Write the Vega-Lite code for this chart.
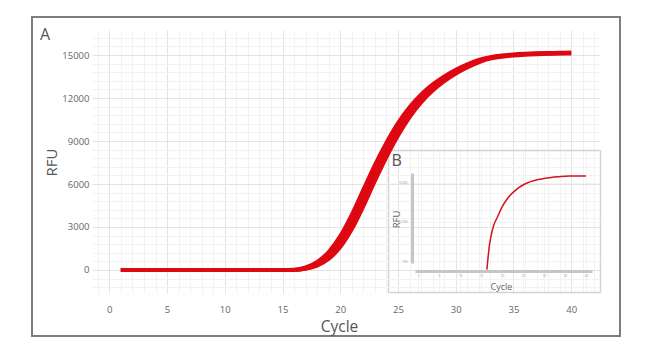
{
  "$schema": "https://vega.github.io/schema/vega-lite/v6.json",
  "width": 588,
  "height": 319,
  "autosize": "none",
  "padding": {"left": 32, "top": 17, "right": 30, "bottom": 16},
  "background": "white",
  "title": {"text": "A", "anchor": "start", "frame": "group", "offset": -39, "baseline": "alphabetic", "dx": 8, "font": "Open Sans", "fontSize": 16, "fontWeight": "normal", "color": "#555"},
  "config": {"view": {"stroke": "#7d7d7d", "strokeWidth": 2, "fill": "white"}, "font": "Open Sans"},
  "datasets": {
    "wells": [
      {"cycle": 1, "w1": 0, "w2": 0, "w3": 0, "w4": 0, "w5": 0},
      {"cycle": 2, "w1": 0, "w2": 0, "w3": 0, "w4": 0, "w5": 0},
      {"cycle": 3, "w1": 0, "w2": 0, "w3": 0, "w4": 0, "w5": 0},
      {"cycle": 4, "w1": 0, "w2": 0, "w3": 0, "w4": 0, "w5": 0},
      {"cycle": 5, "w1": 0, "w2": 0, "w3": 0, "w4": 0, "w5": 0},
      {"cycle": 6, "w1": 0, "w2": 0, "w3": 0, "w4": 0, "w5": 0},
      {"cycle": 7, "w1": 0, "w2": 0, "w3": 0, "w4": 0, "w5": 0},
      {"cycle": 8, "w1": 0, "w2": 0, "w3": 0, "w4": 0, "w5": 0},
      {"cycle": 9, "w1": 0, "w2": 0, "w3": 0, "w4": 0, "w5": 0},
      {"cycle": 10, "w1": 0, "w2": 0, "w3": 0, "w4": 0, "w5": 0},
      {"cycle": 11, "w1": 0, "w2": 0, "w3": 0, "w4": 0, "w5": 0},
      {"cycle": 12, "w1": 0, "w2": 0, "w3": 0, "w4": 0, "w5": 0},
      {"cycle": 13, "w1": 0, "w2": 0, "w3": 0, "w4": 0, "w5": 0},
      {"cycle": 14, "w1": 0, "w2": 0, "w3": 0, "w4": 0, "w5": 0},
      {"cycle": 15, "w1": 0, "w2": 0, "w3": 0, "w4": 0, "w5": 0},
      {"cycle": 16, "w1": 35, "w2": 15, "w3": 0, "w4": 0, "w5": 0},
      {"cycle": 17, "w1": 198, "w2": 142, "w3": 100, "w4": 85, "w5": 65},
      {"cycle": 18, "w1": 580, "w2": 466, "w3": 380, "w4": 338, "w5": 282},
      {"cycle": 19, "w1": 1283, "w2": 1093, "w3": 950, "w4": 865, "w5": 751},
      {"cycle": 20, "w1": 2390, "w2": 2110, "w3": 1900, "w4": 1758, "w5": 1568},
      {"cycle": 21, "w1": 3895, "w2": 3555, "w3": 3300, "w4": 3090, "w5": 2810},
      {"cycle": 22, "w1": 5630, "w2": 5270, "w3": 5000, "w4": 4745, "w5": 4405},
      {"cycle": 23, "w1": 7360, "w2": 7040, "w3": 6800, "w4": 6530, "w5": 6170},
      {"cycle": 24, "w1": 8908, "w2": 8618, "w3": 8400, "w4": 8160, "w5": 7840},
      {"cycle": 25, "w1": 10270, "w2": 10030, "w3": 9850, "w4": 9633, "w5": 9343},
      {"cycle": 26, "w1": 11383, "w2": 11193, "w3": 11050, "w4": 10870, "w5": 10630},
      {"cycle": 27, "w1": 12263, "w2": 12113, "w3": 12000, "w4": 11858, "w5": 11668},
      {"cycle": 28, "w1": 12960, "w2": 12840, "w3": 12750, "w4": 12638, "w5": 12488},
      {"cycle": 29, "w1": 13525, "w2": 13425, "w3": 13350, "w4": 13260, "w5": 13140},
      {"cycle": 30, "w1": 13990, "w2": 13910, "w3": 13850, "w4": 13775, "w5": 13675},
      {"cycle": 31, "w1": 14373, "w2": 14303, "w3": 14250, "w4": 14190, "w5": 14110},
      {"cycle": 32, "w1": 14670, "w2": 14630, "w3": 14600, "w4": 14548, "w5": 14478},
      {"cycle": 33, "w1": 14870, "w2": 14820, "w3": 14800, "w4": 14770, "w5": 14730},
      {"cycle": 34, "w1": 14990, "w2": 14942, "w3": 14930, "w4": 14911, "w5": 14860},
      {"cycle": 35, "w1": 15060, "w2": 15000, "w3": 15010, "w4": 14998, "w5": 14950},
      {"cycle": 36, "w1": 15105, "w2": 15045, "w3": 15060, "w4": 15070, "w5": 15005},
      {"cycle": 37, "w1": 15135, "w2": 15073, "w3": 15090, "w4": 15105, "w5": 15040},
      {"cycle": 38, "w1": 15155, "w2": 15092, "w3": 15110, "w4": 15127, "w5": 15063},
      {"cycle": 39, "w1": 15170, "w2": 15107, "w3": 15125, "w4": 15143, "w5": 15080},
      {"cycle": 40, "w1": 15185, "w2": 15122, "w3": 15140, "w4": 15158, "w5": 15095}
    ],
    "inset": [
      {"cycle": 16.4, "rfu": 60},
      {"cycle": 17, "rfu": 250},
      {"cycle": 17.5, "rfu": 500},
      {"cycle": 18, "rfu": 800},
      {"cycle": 19, "rfu": 1400},
      {"cycle": 20, "rfu": 2400},
      {"cycle": 21, "rfu": 3600},
      {"cycle": 22, "rfu": 4900},
      {"cycle": 23, "rfu": 6200},
      {"cycle": 24, "rfu": 7600},
      {"cycle": 25, "rfu": 8900},
      {"cycle": 26, "rfu": 10000},
      {"cycle": 27, "rfu": 11000},
      {"cycle": 28, "rfu": 11800},
      {"cycle": 29, "rfu": 12400},
      {"cycle": 30, "rfu": 13000},
      {"cycle": 31, "rfu": 13500},
      {"cycle": 32, "rfu": 14000},
      {"cycle": 33, "rfu": 14400},
      {"cycle": 34, "rfu": 14700},
      {"cycle": 35, "rfu": 14900},
      {"cycle": 36, "rfu": 15050},
      {"cycle": 37, "rfu": 15100},
      {"cycle": 38, "rfu": 15150},
      {"cycle": 39, "rfu": 15150},
      {"cycle": 40, "rfu": 15150}
    ]
  },
  "layer": [
    {
      "data": {"name": "wells"},
      "transform": [{"fold": ["w1", "w2", "w3", "w4", "w5"], "as": ["well", "rfu"]}],
      "mark": {"type": "line", "color": "#de0812", "strokeWidth": 3.5, "interpolate": "monotone"},
      "encoding": {
        "x": {
          "field": "cycle", "type": "quantitative",
          "scale": {"domain": [-1.5, 42.5], "range": [60, 568], "nice": false, "zero": false},
          "axis": {
            "orient": "top", "offset": -299,
            "values": [-1, 0, 1, 2, 3, 4, 5, 6, 7, 8, 9, 10, 11, 12, 13, 14, 15, 16, 17, 18, 19, 20, 21, 22, 23, 24, 25, 26, 27, 28, 29, 30, 31, 32, 33, 34, 35, 36, 37, 38, 39, 40, 41, 42],
            "domain": false, "ticks": false,
            "labelExpr": "datum.value % 5 === 0 && datum.value >= 0 && datum.value <= 40 ? datum.label : ''",
            "labelOverlap": false, "labelFlush": false,
            "labelFont": "Open Sans", "labelFontSize": 9.5, "labelColor": "#666", "labelPadding": 4, "labelBaseline": "alphabetic",
            "grid": true,
            "gridColor": {"condition": {"test": "datum.value % 5 === 0", "value": "#e4e4e4"}, "value": "#f2f2f2"},
            "title": "Cycle", "titleFont": "Open Sans", "titleFontSize": 15.5, "titleFontWeight": "normal", "titleColor": "#555",
            "titleX": 307, "titleY": 15, "titleBaseline": "alphabetic"
          }
        },
        "y": {
          "field": "rfu", "type": "quantitative",
          "scale": {"domain": [-1605, 16745], "range": [276, 13], "nice": false, "zero": false},
          "axis": {
            "orient": "left", "offset": -60,
            "values": [-1200, -600, 0, 600, 1200, 1800, 2400, 3000, 3600, 4200, 4800, 5400, 6000, 6600, 7200, 7800, 8400, 9000, 9600, 10200, 10800, 11400, 12000, 12600, 13200, 13800, 14400, 15000, 15600, 16200],
            "format": "d",
            "domain": false, "ticks": false,
            "labelExpr": "datum.value % 3000 === 0 && datum.value >= 0 ? datum.label : ''",
            "labelOverlap": false, "labelFlush": false,
            "labelFont": "Open Sans", "labelFontSize": 9.5, "labelColor": "#666", "labelPadding": 3,
            "grid": true,
            "gridColor": {"condition": {"test": "datum.value % 3000 === 0", "value": "#e4e4e4"}, "value": "#f2f2f2"},
            "title": "RFU", "titleFont": "Open Sans", "titleFontSize": 15, "titleFontWeight": "normal", "titleColor": "#555",
            "titleX": -36, "titleY": 145, "titleBaseline": "alphabetic"
          }
        },
        "detail": {"field": "well", "type": "nominal"}
      }
    },
    {
      "data": {"name": "inset"},
      "mark": {"type": "line", "color": "#d4141c", "strokeWidth": 1.5, "interpolate": "monotone"},
      "encoding": {
        "x": {
          "field": "cycle", "type": "quantitative",
          "scale": {"domain": [-7.143, 43.333], "range": [356, 568], "nice": false, "zero": false},
          "axis": {
            "orient": "top", "offset": -254,
            "values": [-7.143, 0, 5, 10, 15, 20, 25, 30, 35, 40, 43.333],
            "domainColor": "#c6c6c6", "domainWidth": 3, "domainDash": [0, 27, 177, 1000],
            "ticks": false,
            "labelExpr": "datum.value >= 0 && datum.value <= 40 ? datum.label : ''",
            "labelOverlap": false, "labelFlush": false,
            "labelFontSize": 3, "labelColor": "#999", "labelPadding": -3.5, "labelBaseline": "top",
            "grid": true,
            "gridColor": {"condition": {"test": "datum.value < 0 || datum.value > 41", "value": "#d3d3d3"}, "value": "#f3f3f3"},
            "gridWidth": {"condition": {"test": "datum.value < 0 || datum.value > 41", "value": 1.5}, "value": 1},
            "title": "Cycle", "titleFont": "Open Sans", "titleFontSize": 9, "titleFontWeight": "normal", "titleColor": "#666",
            "titleX": 469, "titleY": 18, "titleBaseline": "alphabetic"
          }
        },
        "y": {
          "field": "rfu", "type": "quantitative",
          "scale": {"type": "log", "domain": [16.04, 70150], "range": [275, 133], "nice": false},
          "axis": {
            "orient": "left", "offset": -380,
            "values": [16.04, 100, 1000, 10000, 70150],
            "domainColor": "#c6c6c6", "domainWidth": 3, "domainDash": [0, 29, 90, 1000],
            "ticks": false,
            "labelExpr": "datum.value >= 100 && datum.value <= 10000 ? datum.label : ''",
            "labelOverlap": false, "labelFlush": false,
            "labelFontSize": 3, "labelColor": "#999", "labelPadding": 5,
            "grid": true,
            "gridColor": {"condition": {"test": "datum.value < 20 || datum.value > 60000", "value": "#d3d3d3"}, "value": "#f3f3f3"},
            "gridWidth": {"condition": {"test": "datum.value < 20 || datum.value > 60000", "value": 1.5}, "value": 1},
            "title": "RFU", "titleFont": "Open Sans", "titleFontSize": 9.5, "titleFontWeight": "normal", "titleColor": "#666",
            "titleX": -13, "titleY": 202, "titleBaseline": "alphabetic"
          }
        }
      }
    },
    {
      "data": {"values": [{"label": "B"}]},
      "mark": {"type": "text", "align": "left", "baseline": "alphabetic", "font": "Open Sans", "fontSize": 16, "color": "#555"},
      "encoding": {
        "x": {"datum": -6.31, "type": "quantitative", "scale": {"domain": [-7.143, 43.333], "range": [356, 568], "nice": false, "zero": false}, "axis": null},
        "y": {"datum": 27300, "type": "quantitative", "scale": {"type": "log", "domain": [16.04, 70150], "range": [275, 133], "nice": false}, "axis": null},
        "text": {"field": "label", "type": "nominal"}
      }
    }
  ],
  "resolve": {"scale": {"x": "independent", "y": "independent"}}
}
